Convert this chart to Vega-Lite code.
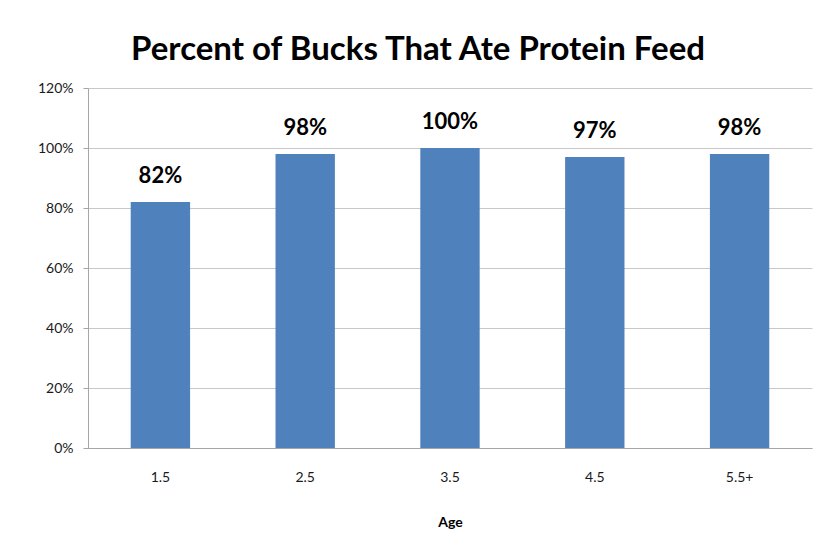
{
  "$schema": "https://vega.github.io/schema/vega-lite/v6.json",
  "width": 724,
  "height": 360,
  "autosize": {"type": "none"},
  "padding": {"left": 88, "top": 88, "right": 13, "bottom": 102},
  "background": "white",
  "title": {
    "text": "Percent of Bucks That Ate Protein Feed",
    "font": "Lato",
    "fontSize": 33,
    "fontWeight": "bold",
    "color": "#000000",
    "anchor": "middle",
    "dx": -32,
    "offset": 14
  },
  "config": {
    "view": {"stroke": null},
    "font": "Lato"
  },
  "data": {
    "values": [
      {"Age": "1.5", "Percent": 0.82},
      {"Age": "2.5", "Percent": 0.98},
      {"Age": "3.5", "Percent": 1.00},
      {"Age": "4.5", "Percent": 0.97},
      {"Age": "5.5+", "Percent": 0.98}
    ]
  },
  "encoding": {
    "x": {
      "field": "Age",
      "type": "nominal",
      "sort": null,
      "scale": {"paddingInner": 0.59, "paddingOuter": 0.295},
      "axis": {
        "labelAngle": 0,
        "labelFontSize": 14,
        "labelColor": "#1a1a1a",
        "labelPadding": 22,
        "ticks": false,
        "domainColor": "#a6a6a6",
        "title": "Age",
        "titleFontSize": 14,
        "titleFontWeight": "bold",
        "titleColor": "#000000",
        "titlePadding": 31
      }
    },
    "y": {
      "field": "Percent",
      "type": "quantitative",
      "scale": {"domain": [0, 1.2]},
      "axis": {
        "values": [0, 0.2, 0.4, 0.6, 0.8, 1.0, 1.2],
        "format": ".0%",
        "title": null,
        "labelFontSize": 14,
        "labelColor": "#1a1a1a",
        "labelPadding": 10,
        "tickSize": 5,
        "tickColor": "#a6a6a6",
        "domainColor": "#a6a6a6",
        "gridColor": "#c8c8c8"
      }
    }
  },
  "layer": [
    {"mark": {"type": "bar", "color": "#4F81BD"}},
    {
      "mark": {"type": "text", "baseline": "bottom", "dy": -14, "fontSize": 22, "fontWeight": "bold", "color": "#000000"},
      "encoding": {"text": {"field": "Percent", "type": "quantitative", "format": ".0%"}}
    }
  ]
}
